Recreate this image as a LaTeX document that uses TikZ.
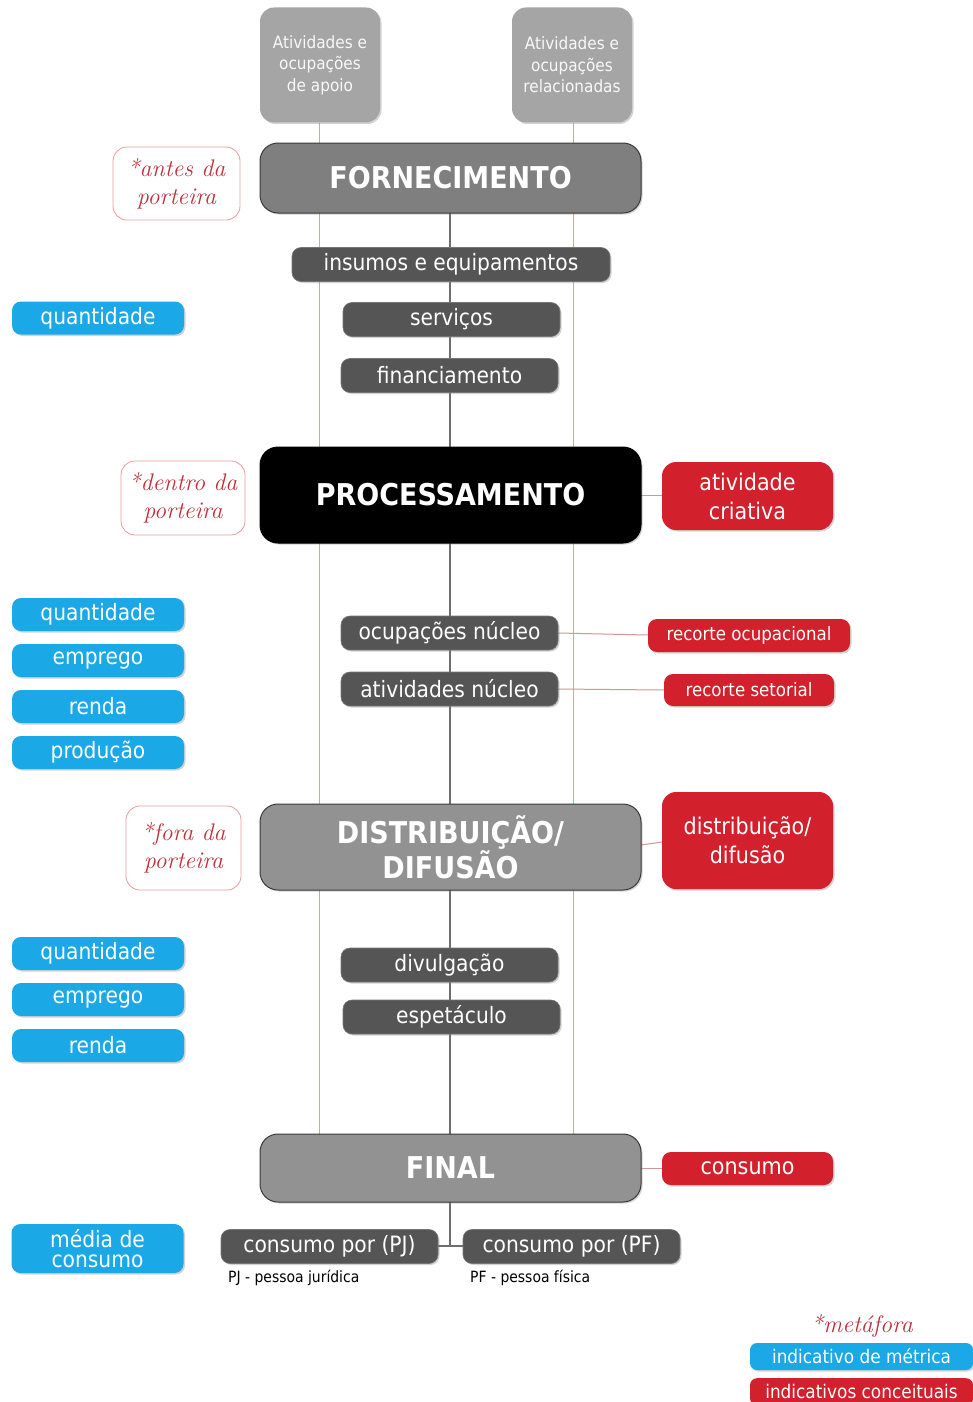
\documentclass[tikz,border=0pt]{standalone}
\usepackage{fontspec}
\setmainfont{DejaVu Sans Condensed}
\newfontfamily\handfont{Latin Modern Roman}
\usetikzlibrary{shadows}
\definecolor{lgrey}{HTML}{A5A5A5}
\definecolor{mgrey}{HTML}{7F7F7F}
\definecolor{dgrey}{HTML}{555555}
\definecolor{bord}{HTML}{3A3A3A}
\definecolor{cblue}{HTML}{1AA9E6}
\definecolor{cred}{HTML}{D2202C}
\definecolor{hred}{HTML}{C0303A}
\definecolor{pinkline}{HTML}{E69C9C}
\definecolor{stem}{HTML}{6E6E6E}
\tikzset{
  base/.style={rounded corners=9pt, inner sep=0pt, align=center, drop shadow={shadow xshift=1.5pt, shadow yshift=-1.5pt, opacity=0.35}},
  topbox/.style={base, fill=lgrey, text=white!92!lgrey, rounded corners=14pt, font=\fontsize{17}{21.5}\selectfont, minimum width=120pt, minimum height=115pt},
  headbox/.style={base, fill=mgrey, draw=bord, line width=1pt, text=white, rounded corners=18pt, font=\bfseries\fontsize{30}{35}\selectfont, minimum width=381pt},
  subbox/.style={base, fill=dgrey, draw=bord!70, line width=0.6pt, text=white, font=\fontsize{22.5}{24}\selectfont, minimum height=34pt},
  bluebox/.style={base, fill=cblue, text=white, font=\fontsize{22.5}{22}\selectfont, minimum width=172pt, minimum height=33pt},
  redbox/.style={base, fill=cred, text=white, font=\fontsize{23}{29}\selectfont},
  notebox/.style={rounded corners=14pt, draw=pinkline, line width=0.8pt, fill=white, inner sep=0pt, align=center, text=hred, font=\handfont\itshape\fontsize{24}{28}\selectfont},
  pinkln/.style={draw=pinkline, line width=1pt},
  stemln/.style={draw=stem, line width=1.6pt},
  connln/.style={draw=pinkline!80!gray, line width=1pt},
  smalltxt/.style={anchor=west, inner sep=0pt, font=\fontsize{15.5}{17}\selectfont, text=black}
}
\begin{document}
\begin{tikzpicture}[x=1pt, y=-1pt]
\useasboundingbox (0,0) rectangle (973,1402);
\fill[white] (0,0) rectangle (973,1402);

% coordinates for line ends
\coordinate (lTop) at (319,123);
\coordinate (lBot) at (319,1134);
\coordinate (rTop) at (573,123);
\coordinate (rBot) at (573,1134);
\coordinate (cTop) at (450,213);
\coordinate (cJoin) at (450,1246);

% vertical lines (behind boxes)
\draw[pinkln] (lTop) -- (lBot);
\draw[pinkln] (rTop) -- (rBot);
\draw[stemln] (cTop) -- (cJoin);

% side connectors
\draw[connln] (641,495) -- (662,495);
\draw[connln] (558,633) -- (648,635);
\draw[connln] (558,689) -- (664,690);
\draw[connln] (641,845) -- (662,842);
\draw[connln] (641,1168) -- (662,1168);
\draw[stemln] (438,1246) -- (463,1246);

% top boxes
\node[topbox] (apoio) at (320,65) {Atividades e\\ocupações\\de apoio};
\node[topbox] (relac) at (572,65) {Atividades e\\ocupações\\relacionadas};

% main stages
\node[headbox, minimum height=70pt] (forn) at (450.5,178) {FORNECIMENTO};
\node[headbox, fill=black, draw=black, minimum height=96pt] (proc) at (450.5,495) {PROCESSAMENTO};
\node[headbox, fill=mgrey!85!white, minimum height=86pt, font=\bfseries\fontsize{30}{35}\selectfont] (dist) at (450.5,847) {DISTRIBUIÇÃO/\\DIFUSÃO};
\node[headbox, fill=mgrey!85!white, minimum height=68pt] (final) at (450.5,1168) {FINAL};

% notes
\node[notebox, minimum width=127pt, minimum height=73pt] (antes) at (176.5,183.5) {*antes da\\porteira};
\node[notebox, minimum width=124pt, minimum height=74pt] (dentro) at (183,498) {*dentro da\\porteira};
\node[notebox, minimum width=115pt, minimum height=84pt] (fora) at (183.5,848) {*fora da\\porteira};

% sub boxes
\node[subbox, minimum width=318pt] (insumos) at (451,264.5) {insumos e equipamentos};
\node[subbox, minimum width=217pt] (serv) at (451.5,319.5) {serviços};
\node[subbox, minimum width=217pt] (fin) at (449.5,375.5) {financiamento};
\node[subbox, minimum width=217pt] (ocup) at (449.5,633) {ocupações núcleo};
\node[subbox, minimum width=217pt] (ativ) at (449.5,689) {atividades núcleo};
\node[subbox, minimum width=217pt] (divul) at (449.5,965) {divulgação};
\node[subbox, minimum width=217pt] (espet) at (451.5,1017) {espetáculo};
\node[subbox, minimum width=217pt] (pj) at (329.5,1246.5) {consumo por (PJ)};
\node[subbox, minimum width=217pt] (pf) at (571.5,1246.5) {consumo por (PF)};

% blue metric boxes
\node[bluebox] (q1) at (98,318) {quantidade};
\node[bluebox] (q2) at (98,614.5) {quantidade};
\node[bluebox] (e2) at (98,660.5) {emprego};
\node[bluebox] (r2) at (98,706.5) {renda};
\node[bluebox] (p2) at (98,752.5) {produção};
\node[bluebox] (q3) at (98,953.5) {quantidade};
\node[bluebox] (e3) at (98,999.5) {emprego};
\node[bluebox] (r3) at (98,1045.5) {renda};
\node[bluebox, minimum height=49pt, font=\fontsize{22.5}{20}\selectfont] (media) at (97.5,1248.5) {média de\\consumo};

% red concept boxes
\node[redbox, minimum width=171pt, minimum height=68pt, rounded corners=14pt] (criat) at (747.5,496) {atividade\\criativa};
\node[redbox, minimum width=202pt, minimum height=33pt, font=\fontsize{18.5}{20}\selectfont] (rocup) at (749,635.5) {recorte ocupacional};
\node[redbox, minimum width=170pt, minimum height=32pt, font=\fontsize{18.5}{20}\selectfont] (rset) at (749,690) {recorte setorial};
\node[redbox, minimum width=171pt, minimum height=97pt, rounded corners=14pt] (rdist) at (747.5,840.5) {distribuição/\\difusão};
\node[redbox, minimum width=171pt, minimum height=33pt] (cons) at (747.5,1168.5) {consumo};

% footnotes
\node[smalltxt] (pjtxt) at (228,1278) {PJ - pessoa jurídica};
\node[smalltxt] (pftxt) at (470,1278) {PF - pessoa física};

% legend
\node[text=hred, font=\handfont\itshape\fontsize{24}{26}\selectfont, inner sep=0pt] (metaf) at (862,1326) {*metáfora};
\node[base, fill=cblue, text=white, font=\fontsize{18.8}{20}\selectfont, minimum width=223pt, minimum height=27pt, rounded corners=7pt] (legb) at (861.5,1356.5) {indicativo de métrica};
\node[base, fill=cred, text=white, font=\fontsize{18.8}{20}\selectfont, minimum width=223pt, minimum height=27pt, rounded corners=7pt, anchor=north] (legr) at (861.5,1378) {indicativos conceituais};
\end{tikzpicture}
\end{document}
